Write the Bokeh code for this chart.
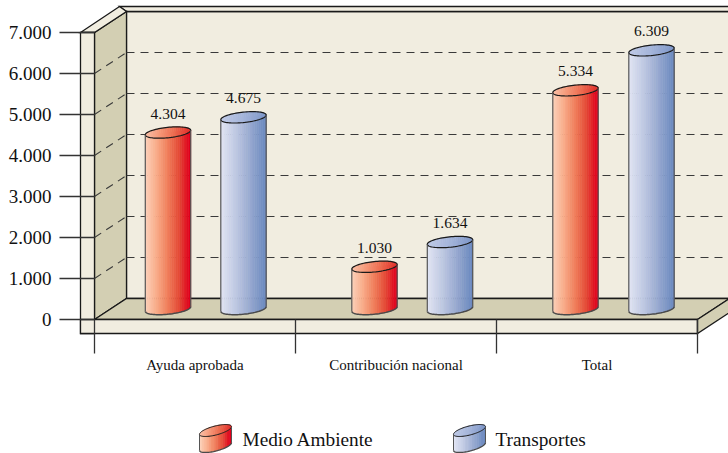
from bokeh.plotting import figure
from bokeh.models import LinearAxis, FixedTicker, Range1d
from bokeh.core.properties import value
from bokeh.embed import file_html
from bokeh.resources import INLINE
import numpy as np

categories = ["Ayuda aprobada", "Contribución nacional", "Total"]
series_names = ["Medio Ambiente", "Transportes"]
medio_ambiente = [4304, 1030, 5334]
transportes = [4675, 1634, 6309]
y_ticks = [0, 1000, 2000, 3000, 4000, 5000, 6000, 7000]
y_tick_labels = ["0", "1.000", "2.000", "3.000", "4.000", "5.000", "6.000", "7.000"]

W, H = 728, 453
X0_PX, Y0_PX = 94, 319        # origin of the front floor edge
UX, UY = 201.0, 41.0 / 1000   # pixels per category, pixels per unit
DX, DY = 32 / UX, 21 / UY     # oblique depth of the box
px = 1 / UX
py = 1 / UY

def sx(v):
    return (v - X0_PX) * px

def sy(v):
    return (Y0_PX - v) * py

p = figure(width=W, height=H, output_backend="svg", toolbar_location=None,
           x_range=Range1d(sx(0), sx(W)), y_range=Range1d(sy(H), sy(0)),
           min_border=0, outline_line_color=None, background_fill_color="white",
           border_fill_color="white")
p.xaxis.visible = False
p.yaxis.visible = False
p.xgrid.visible = False
p.ygrid.visible = False

INK = "#1a1a1a"
LIGHT = "#f1ede0"
DARK = "#d3cfb3"
NCAT = len(categories)
YMAX = max(y_ticks)
XR = sx(W + 4)

def poly(xs, ys, fill, line=INK, lw=1.3):
    p.patch(xs, ys, fill_color=fill, line_color=line, line_width=lw, line_join="miter")

# back wall + its top rim
poly([DX, XR, XR, DX], [DY, DY, YMAX + DY, YMAX + DY], LIGHT)
poly([DX - 7 * px, XR, XR, DX], [YMAX + DY + 5 * py, YMAX + DY + 5 * py, YMAX + DY, YMAX + DY], LIGHT)
# left wall
poly([0, DX, DX, 0], [0, DY, YMAX + DY, YMAX], DARK)
# bevel on the top of the front post
poly([-14 * px, DX - 7 * px, DX, 0], [YMAX, YMAX + DY + 5 * py, YMAX + DY, YMAX], LIGHT)
# floor
poly([0, NCAT, XR, XR, DX], [0, 0, DY * (XR - NCAT) / DX, DY, DY], DARK)
# front post + front plinth
poly([-14 * px, 0, 0, -14 * px], [-14 * py, -14 * py, YMAX, YMAX], LIGHT)
poly([-14 * px, NCAT, NCAT, -14 * px], [-14 * py, -14 * py, 0, 0], LIGHT)
# right side of the plinth
poly([NCAT, XR, XR, NCAT], [0, DY * (XR - NCAT) / DX, DY * (XR - NCAT) / DX - 14 * py, -14 * py], DARK)

# dashed grid on the back wall and on the left wall
grid_vals = [v for v in y_ticks if 0 < v < YMAX]
p.multi_line([[DX, XR] for _ in grid_vals], [[v + DY, v + DY] for v in grid_vals],
             line_color="#3a3a3a", line_width=1.1, line_dash="8 6")
p.multi_line([[0, DX] for _ in grid_vals], [[v, v + DY] for v in grid_vals],
             line_color="#3a3a3a", line_width=1.1, line_dash="8 6")

def ramp(stops, n):
    stops = np.array(stops, dtype=float)
    pos = np.linspace(0, 1, len(stops))
    t = np.linspace(0, 1, n)
    out = []
    for ti in t:
        out.append("#%02x%02x%02x" % tuple(int(round(np.interp(ti, pos, stops[:, c]))) for c in range(3)))
    return out

RED_BODY = [(253, 208, 184), (248, 170, 135), (240, 125, 90), (228, 75, 55), (224, 0, 28)]
RED_TOP = [(250, 190, 165), (245, 150, 118), (236, 105, 78), (226, 50, 45)]
BLUE_BODY = [(224, 228, 244), (190, 200, 226), (150, 168, 208), (108, 138, 192)]
BLUE_TOP = [(190, 201, 230), (165, 181, 218), (128, 152, 202)]

def cylinder(cx, base, top, a_px, b_px, tilt, body, cap, n=24, edge=1.2):
    a, b = a_px * px, b_px * py
    k = tilt * (py / px)                       # value units per x unit
    edges = np.linspace(-a, a, n + 1)
    half = lambda u: b * np.sqrt(np.clip(1 - (u / a) ** 2, 0, 1))
    body_cols, cap_cols = ramp(body, n), ramp(cap, n)
    xs, ys, cs = [], [], []
    for i in range(n):
        l, r = edges[i], edges[i + 1]
        mids = np.linspace(l, r, 4)
        low = base + k * mids - half(mids)
        xs.append(list(cx + mids) + [cx + r, cx + l])
        ys.append(list(low) + [top + k * r, top + k * l])
        cs.append(body_cols[i])
    p.patches(xs, ys, fill_color=cs, line_color=cs, line_width=0.6)
    xs, ys, cs = [], [], []
    for i in range(n):
        l, r = edges[i], edges[i + 1]
        mids = np.linspace(l, r, 4)
        xs.append(list(cx + mids) + list(cx + mids[::-1]))
        ys.append(list(top + k * mids - half(mids)) + list((top + k * mids + half(mids))[::-1]))
        cs.append(cap_cols[i])
    p.patches(xs, ys, fill_color=cs, line_color=cs, line_width=0.6)
    t = np.linspace(0, 2 * np.pi, 80)
    ex, ey = a * np.cos(t), b * np.sin(t)
    p.line(cx + ex, top + k * ex + ey, line_color=INK, line_width=edge)
    t = np.linspace(np.pi, 2 * np.pi, 40)
    ex, ey = a * np.cos(t), b * np.sin(t)
    p.line(list(cx + ex), list(base + k * ex + ey), line_color="#4a4a4a", line_width=edge + 0.3)
    p.line([cx - a, cx - a], [top - k * a, base - k * a], line_color="#555555", line_width=edge)
    p.line([cx + a, cx + a], [top + k * a, base + k * a], line_color="#555555", line_width=edge)

BASE = DY / 2
RED_POS = [73.5 * px + 0, 79 * px, 79 * px]
BLUE_POS = [149 * px, 154.5 * px, 155 * px]
lab_x, lab_y, lab_t = [], [], []
for i in range(NCAT):
    for vals, pos, body, cap in ((medio_ambiente, RED_POS, RED_BODY, RED_TOP),
                                 (transportes, BLUE_POS, BLUE_BODY, BLUE_TOP)):
        cx = i + pos[i]
        cylinder(cx, BASE, BASE + vals[i], 22.7, 5.2, 0.1, body, cap)
        lab_x.append(cx)
        lab_y.append(BASE + vals[i] + 19 * py)
        lab_t.append(f"{vals[i]:,}".replace(",", "."))

p.text(lab_x, lab_y, text=lab_t, text_align="center", text_baseline="middle",
       text_font=value("Liberation Serif"), text_font_size="15.5px", text_color="#111111")

# legend
LEG_Y = sy(446)
for name, ix, tx, body, cap in ((series_names[0], 215, 242, RED_BODY, RED_TOP),
                                (series_names[1], 469, 495, BLUE_BODY, BLUE_TOP)):
    cylinder(sx(ix), LEG_Y, LEG_Y + 16 * py, 16, 4.6, 0.24, body, cap, n=14, edge=1.0)
    p.text([sx(tx)], [sy(439)], text=[name], text_align="left", text_baseline="middle",
           text_font=value("Liberation Serif"), text_font_size="19.3px", text_color="#111111")

# axes, fixed onto the scales inside the frame
yax = LinearAxis(fixed_location=0, ticker=FixedTicker(ticks=y_ticks),
                 major_label_overrides=dict(zip(y_ticks, y_tick_labels)))
yax.axis_line_color = None
yax.major_tick_in = 0
yax.major_tick_out = 35
yax.major_tick_line_color = "#333333"
yax.major_tick_line_width = 1.3
yax.minor_tick_line_color = None
yax.major_label_standoff = 8
yax.major_label_text_font = "Liberation Serif"
yax.major_label_text_font_size = "19px"
yax.major_label_text_color = "#111111"
p.add_layout(yax, "left")

xticks = [i + 0.5 for i in range(NCAT)]
xax = LinearAxis(fixed_location=0,
                 ticker=FixedTicker(ticks=xticks, minor_ticks=list(range(NCAT + 1))),
                 major_label_overrides=dict(zip(xticks, categories)))
xax.axis_line_color = None
xax.major_tick_line_color = None
xax.major_tick_in = 0
xax.major_tick_out = 0
xax.minor_tick_in = 0
xax.minor_tick_out = 34
xax.minor_tick_line_color = "#333333"
xax.minor_tick_line_width = 1.3
xax.major_label_standoff = 3
xax.major_label_orientation = "horizontal"
xax.major_label_text_font = "Liberation Serif"
xax.major_label_text_font_size = "15px"
xax.major_label_text_color = "#111111"
p.add_layout(xax, "below")

open("out.html", "w").write(file_html(p, INLINE))
